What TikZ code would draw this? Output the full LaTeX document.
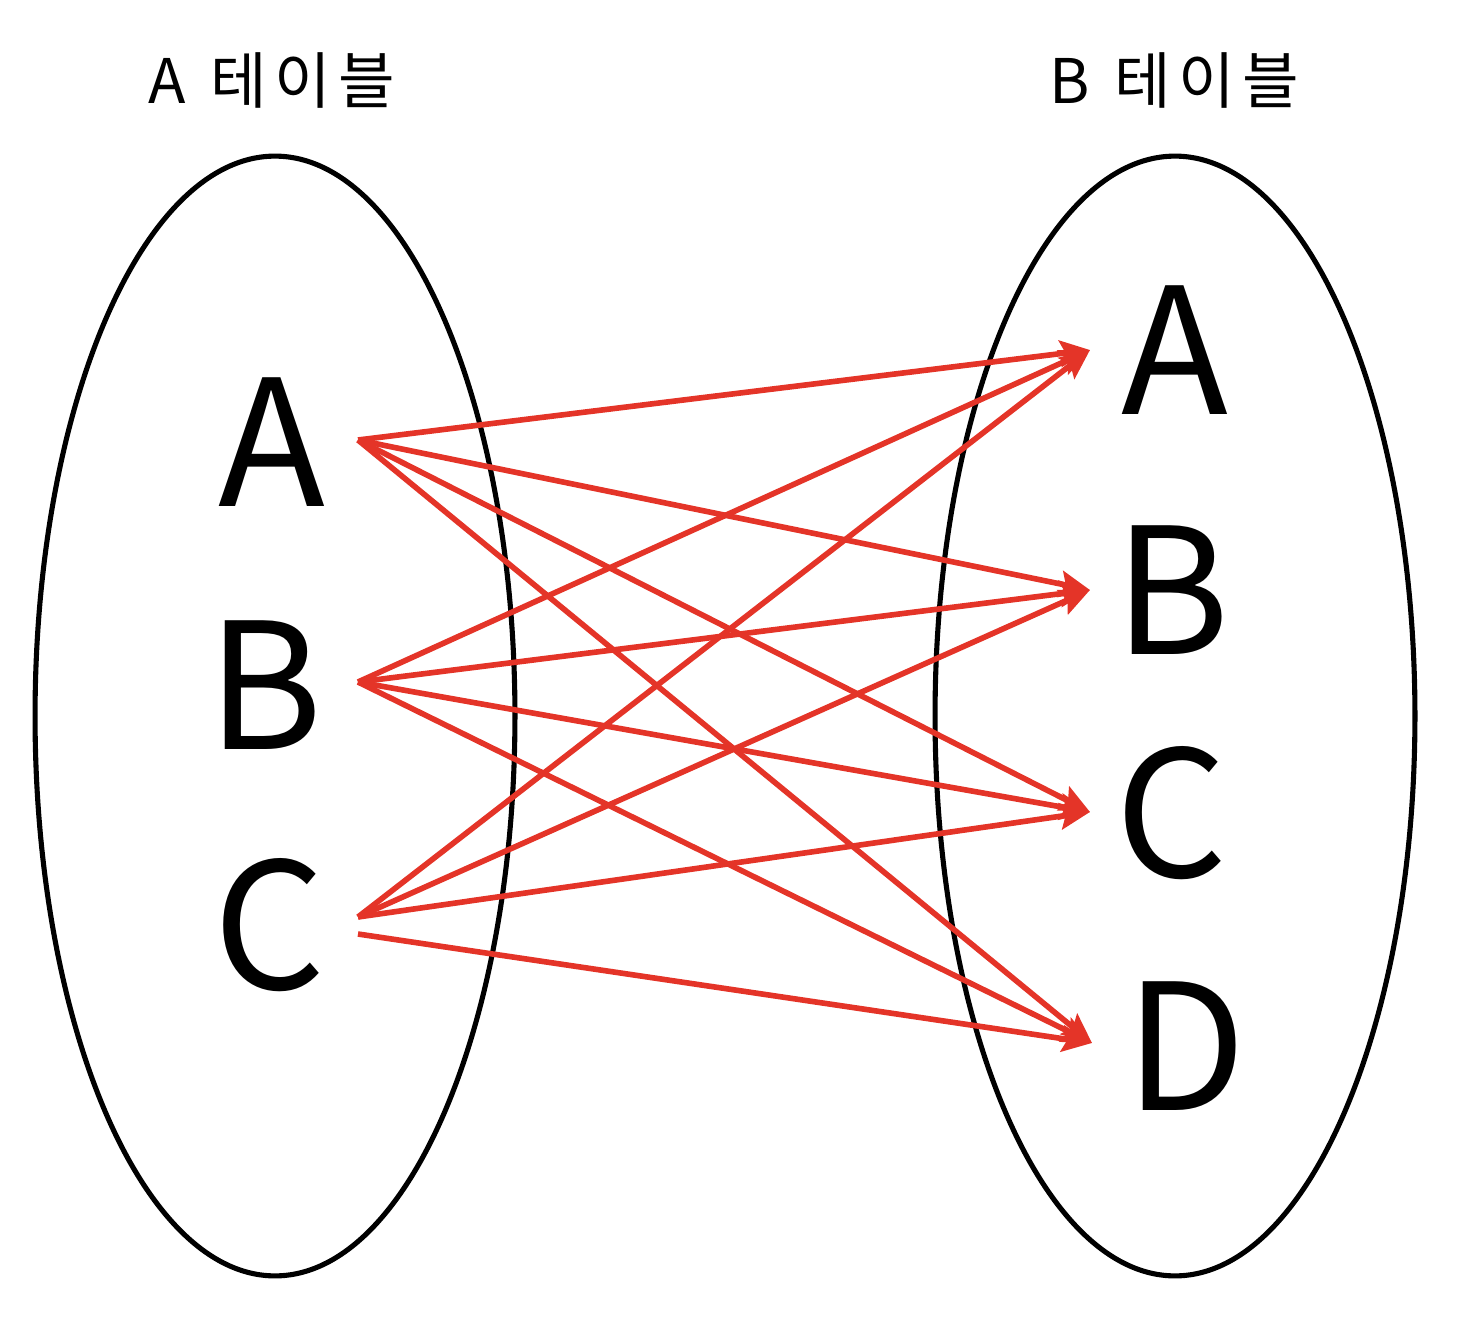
\documentclass[tikz,border=0pt]{standalone}
\usepackage{fontspec}
\setmainfont{Noto Sans CJK KR}
\newfontfamily\titlefont[LetterSpace=12]{Noto Sans CJK KR}
\usetikzlibrary{shapes.geometric,arrows.meta}
\definecolor{linkred}{RGB}{228,52,40}
\begin{document}
\begin{tikzpicture}[x=0.02cm,y=-0.02cm,
  settab/.style={draw=black,line width=2.9pt,ellipse,minimum width=9.6cm,minimum height=22.4cm,inner sep=0pt},
  bigletter/.style={font=\fontsize{100}{110}\selectfont,inner sep=0pt},
  tabtitle/.style={font=\titlefont\fontsize{35}{40}\selectfont,inner sep=0pt},
  link/.style={draw=linkred,line width=3.2pt,-{Stealth[length=17pt,width=15pt,inset=3pt]}}]
\useasboundingbox (0,0) rectangle (1458,1322);
\node[settab] (L) at (275,716) {};
\node[settab] (R) at (1175,716) {};
\node[tabtitle] (tL) at (272,80) {A\hspace{0.4em}테이블};
\node[tabtitle] (tR) at (1174,80) {B\hspace{0.4em}테이블};
\node[bigletter] (la) at (272,442) {A};
\node[bigletter] (lb) at (265,685) {B};
\node[bigletter] (lc) at (270,925) {C};
\node[bigletter] (ra) at (1175,350) {A};
\node[bigletter] (rb) at (1172,590) {B};
\node[bigletter] (rc) at (1172,813) {C};
\node[bigletter] (rd) at (1186,1046) {D};
\coordinate (sa) at (358,440);
\coordinate (sb) at (358,682);
\coordinate (sc) at (358,917);
\coordinate (sc2) at (358,934);
\coordinate (ta) at (1090,350);
\coordinate (tb) at (1090,590);
\coordinate (tc) at (1090,812);
\coordinate (td) at (1092,1043);
\foreach \s in {sa,sb,sc}{
  \foreach \t in {ta,tb,tc}{
    \draw[link] (\s) -- (\t);
  }
}
\draw[link] (sa) -- (td);
\draw[link] (sb) -- (td);
\draw[link] (sc2) -- (td);
\end{tikzpicture}
\end{document}
